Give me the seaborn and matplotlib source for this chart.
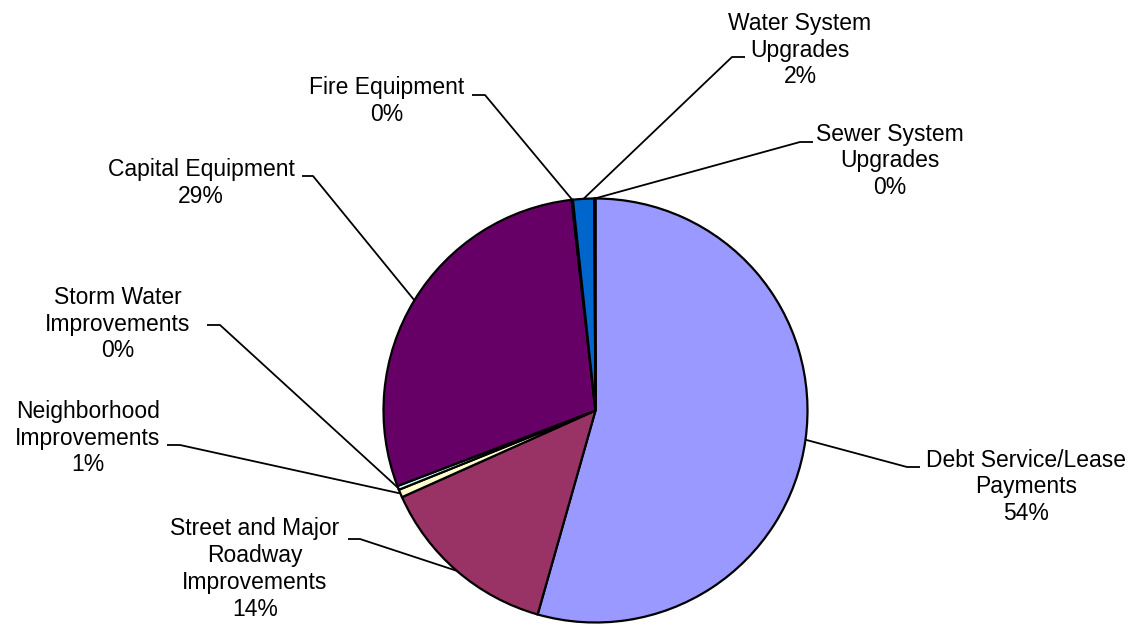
import matplotlib
matplotlib.use("Agg")
import matplotlib.pyplot as plt
import numpy as np
import seaborn as sns

# Capital budget allocation by program (percent of total)
categories = [
    "Debt Service/Lease\nPayments",
    "Street and Major\nRoadway\nImprovements",
    "Neighborhood\nImprovements",
    "Storm Water\nImprovements",
    "Capital Equipment",
    "Fire Equipment",
    "Water System\nUpgrades",
    "Sewer System\nUpgrades",
]
shares = [54.4, 13.9, 0.6, 0.3, 29.0, 0.1, 1.6, 0.1]
colors = ["#9999FF", "#993366", "#FFFFCC", "#CCFFFF",
          "#660066", "#FF8080", "#0066CC", "#CCCCFF"]

W, H = 1140, 625

# label block centres and leader-line elbows (pixel positions, y from top)
label_pos = [(1026, 487), (255, 569), (88, 438), (118, 324),
             (201, 183), (387, 101), (800, 50), (890, 161)]
elbows = [(907, 467), (360, 539), (180, 445), (220, 325),
          (313, 176), (485, 95), (732, 57), (800, 142)]
hooks = [13, -12, -13, -13, -11, -13, 13, 13]

sns.set_theme(style="white")
plt.rcParams["font.family"] = ["Liberation Sans", "DejaVu Sans"]

fig = plt.figure(figsize=(W / 100, H / 100), dpi=100)
ax = fig.add_axes([0, 0, 1, 1])

cx, cy, r = 595.5, H - 410.5, 212
wedges, _ = ax.pie(
    shares, colors=colors, startangle=90, counterclock=False,
    center=(cx, cy), radius=r,
    wedgeprops=dict(edgecolor="black", linewidth=1.6),
)

ax.set_xlim(0, W)
ax.set_ylim(0, H)
ax.set_aspect("equal")
ax.axis("off")

for w, name, val, (tx, ty), (ex, ey), hk in zip(
        wedges, categories, shares, label_pos, elbows, hooks):
    mid = np.deg2rad((w.theta1 + w.theta2) / 2)
    ax_pt = cx + r * np.cos(mid), cy + r * np.sin(mid)
    ax.plot([ax_pt[0], ex, ex + hk], [ax_pt[1], H - ey, H - ey],
            color="black", lw=1.3, solid_capstyle="butt", zorder=3)
    ax.text(tx, H - ty, f"{name}\n{round(val):.0f}%",
            ha="center", va="center", multialignment="center",
            fontsize=16.5, linespacing=1.22, color="black")

fig.savefig("out.png", dpi=100, facecolor="white")
